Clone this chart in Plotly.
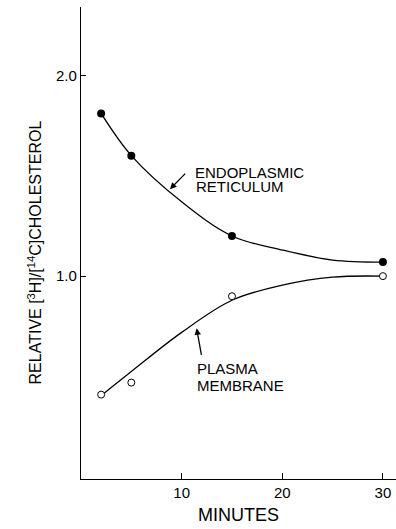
import plotly.graph_objects as go

# measured points
minutes = [2, 5, 15, 30]
er_values = [1.81, 1.60, 1.20, 1.07]
pm_values = [0.41, 0.47, 0.90, 1.00]

# hand-drawn fitted curves
er_curve_x = [2, 5, 10, 15, 20, 25, 30]
er_curve_y = [1.81, 1.60, 1.37, 1.20, 1.13, 1.08, 1.07]
pm_curve_x = [2, 5, 10, 15, 20, 25, 30]
pm_curve_y = [0.405, 0.525, 0.72, 0.88, 0.955, 0.995, 1.00]

x_ticks = [10, 20, 30]
x_tick_text = ["10", "20", "30"]
y_ticks = [1.0, 2.0]
y_tick_text = ["1.0", "2.0"]

FONT = "Liberation Sans, Arial, sans-serif"

fig = go.Figure()
fig.add_trace(go.Scatter(x=er_curve_x, y=er_curve_y, mode="lines",
                         line=dict(color="black", width=1.3, shape="spline", smoothing=1.0),
                         hoverinfo="skip"))
fig.add_trace(go.Scatter(x=pm_curve_x, y=pm_curve_y, mode="lines",
                         line=dict(color="black", width=1.3, shape="spline", smoothing=1.0),
                         hoverinfo="skip"))
fig.add_trace(go.Scatter(x=minutes, y=er_values, mode="markers",
                         marker=dict(symbol="circle", size=8, color="black")))
fig.add_trace(go.Scatter(x=minutes, y=pm_values, mode="markers",
                         marker=dict(symbol="circle", size=7, color="white",
                                     line=dict(color="black", width=1))))

fig.update_layout(
    width=396, height=529,
    margin=dict(l=81, r=0, t=7, b=50),
    paper_bgcolor="white", plot_bgcolor="white",
    showlegend=False,
    font=dict(family=FONT, size=15, color="black"),
    xaxis=dict(range=[0, 31.3], showline=True, linecolor="black", linewidth=1.3,
               showgrid=False, zeroline=False, ticks="inside", ticklen=6,
               tickcolor="black", tickvals=x_ticks, ticktext=x_tick_text,
               tickfont=dict(size=15),
               title=dict(text="MINUTES", font=dict(size=18), standoff=8)),
    yaxis=dict(range=[-0.01, 2.34], showline=True, linecolor="black", linewidth=1.3,
               showgrid=False, zeroline=False, ticks="inside", ticklen=5,
               tickcolor="black", tickvals=y_ticks, ticktext=y_tick_text,
               tickfont=dict(size=15)),
)

fig.add_annotation(text="RELATIVE [<sup>3</sup>H]/[<sup>14</sup>C]CHOLESTEROL",
                   xref="paper", yref="paper", x=0, y=0.48, xshift=-46,
                   textangle=-90, showarrow=False, font=dict(size=16),
                   xanchor="center", yanchor="middle")

label_font = dict(size=15)
fig.add_annotation(text="ENDOPLASMIC", x=11.1, y=1.516, xref="x", yref="y",
                   xanchor="left", yanchor="middle", showarrow=False, font=label_font)
fig.add_annotation(text="RETICULUM", x=11.2, y=1.444, xref="x", yref="y",
                   xanchor="left", yanchor="middle", showarrow=False, font=label_font)
fig.add_annotation(x=8.84, y=1.433, ax=10.5, ay=1.518, xref="x", yref="y",
                   axref="x", ayref="y", text="", showarrow=True,
                   arrowhead=2, arrowsize=1, arrowwidth=1.3, arrowcolor="black")

fig.add_annotation(text="PLASMA", x=11.3, y=0.538, xref="x", yref="y",
                   xanchor="left", yanchor="middle", showarrow=False, font=label_font)
fig.add_annotation(text="MEMBRANE", x=11.3, y=0.455, xref="x", yref="y",
                   xanchor="left", yanchor="middle", showarrow=False, font=label_font)
fig.add_annotation(x=11.49, y=0.74, ax=11.99, ay=0.60, xref="x", yref="y",
                   axref="x", ayref="y", text="", showarrow=True,
                   arrowhead=2, arrowsize=1, arrowwidth=1.3, arrowcolor="black")

# remove the default page margin so the figure fills the window exactly
fig.write_html("out.html",
               config={"displayModeBar": False},
               post_script="document.body.style.margin='0px';"
                           "document.body.style.overflow='hidden';")
